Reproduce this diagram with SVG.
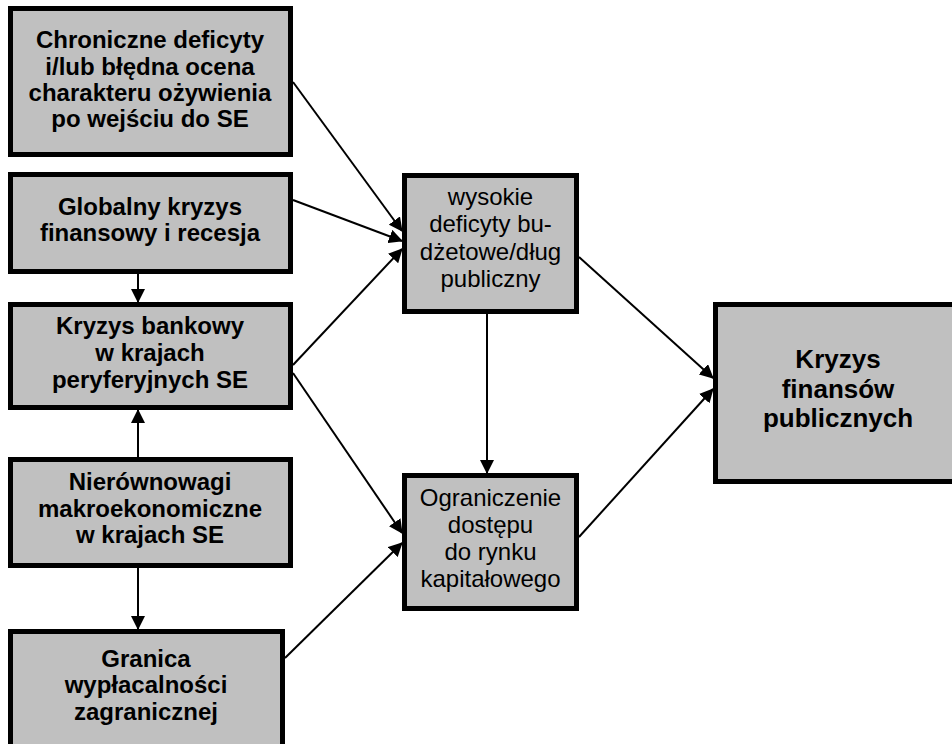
<svg xmlns="http://www.w3.org/2000/svg" width="952" height="744" viewBox="0 0 952 744">
<style>
.box{fill:#c0c0c0;stroke:#000;stroke-width:5}
.t{font-family:"Liberation Sans",Arial,sans-serif;font-size:24px;fill:#000;text-anchor:middle}
.b{font-weight:bold}
.big{font-size:26px}
.c line{stroke:#000;stroke-width:2;fill:none;marker-end:url(#ah)}
</style>
<defs>
<marker id="ah" markerUnits="userSpaceOnUse" markerWidth="14" markerHeight="14" refX="13" refY="7" orient="auto">
<path d="M0,0 L14,7 L0,14 z" fill="#000"/>
</marker>
</defs>
<rect width="952" height="744" fill="#fff"/>
<g id="n1">
<rect class="box" x="10.5" y="8.5" width="280" height="146"/>
<text class="t b" x="150" y="48">Chroniczne deficyty</text>
<text class="t b" x="150" y="74.5">i/lub błędna ocena</text>
<text class="t b" x="150" y="101">charakteru ożywienia</text>
<text class="t b" x="150" y="127">po wejściu do SE</text>
</g>
<g id="n2">
<rect class="box" x="10.5" y="174.5" width="280" height="97"/>
<text class="t b" x="150" y="215">Globalny kryzys</text>
<text class="t b" x="150" y="241">finansowy i recesja</text>
</g>
<g id="n3">
<rect class="box" x="10.5" y="304.5" width="280" height="103"/>
<text class="t b" x="150" y="334">Kryzys bankowy</text>
<text class="t b" x="150" y="361">w krajach</text>
<text class="t b" x="150" y="388">peryferyjnych SE</text>
</g>
<g id="n4">
<rect class="box" x="10.5" y="459.5" width="280" height="106"/>
<text class="t b" x="150" y="490">Nierównowagi</text>
<text class="t b" x="150" y="517">makroekonomiczne</text>
<text class="t b" x="150" y="543">w krajach SE</text>
</g>
<g id="n5">
<rect class="box" x="10.5" y="631.5" width="272" height="130"/>
<text class="t b" x="146" y="667">Granica</text>
<text class="t b" x="146" y="693">wypłacalności</text>
<text class="t b" x="146" y="720">zagranicznej</text>
</g>
<g id="n6">
<rect class="box" x="404.5" y="175.5" width="172" height="136"/>
<text class="t" x="490.5" y="204.5">wysokie</text>
<text class="t" x="490.5" y="232">deficyty bu-</text>
<text class="t" x="490.5" y="259.5">dżetowe/dług</text>
<text class="t" x="490.5" y="287">publiczny</text>
</g>
<g id="n7">
<rect class="box" x="404.5" y="475.5" width="172" height="133"/>
<text class="t" x="490.5" y="506">Ograniczenie</text>
<text class="t" x="490.5" y="533">dostępu</text>
<text class="t" x="490.5" y="560">do rynku</text>
<text class="t" x="490.5" y="587">kapitałowego</text>
</g>
<g id="n8">
<rect class="box" x="715.5" y="304.5" width="250" height="177"/>
<text class="t b big" x="838" y="368">Kryzys</text>
<text class="t b big" x="838" y="398">finansów</text>
<text class="t b big" x="838" y="427">publicznych</text>
</g>
<g id="connectors" class="c">
<line x1="293" y1="82" x2="402" y2="231"/>
<line x1="293" y1="200" x2="402" y2="241"/>
<line x1="293" y1="365" x2="402" y2="249"/>
<line x1="293" y1="373" x2="402" y2="533"/>
<line x1="285" y1="658" x2="402" y2="543"/>
<line x1="138" y1="274" x2="138" y2="302"/>
<line x1="138" y1="457" x2="138" y2="410"/>
<line x1="138" y1="568" x2="138" y2="629"/>
<line x1="487" y1="314" x2="487" y2="473"/>
<line x1="579" y1="257" x2="713" y2="378"/>
<line x1="579" y1="537" x2="713" y2="389"/>
</g>
</svg>
